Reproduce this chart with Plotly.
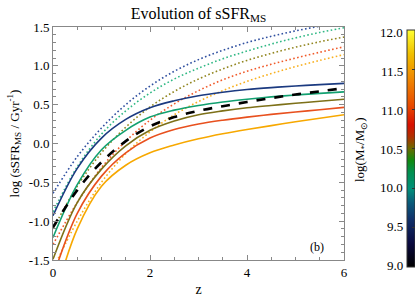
import plotly.graph_objects as go

# ---------------- data ----------------
z = [0, 0.5, 1, 1.5, 2, 2.5, 3, 3.5, 4, 4.5, 5, 5.5, 6]
masses = [9.5, 10.0, 10.5, 11.0, 11.5]

solid_95 = [-0.93, -0.32, 0.07, 0.31, 0.46, 0.55, 0.615, 0.66, 0.695, 0.72, 0.74, 0.758, 0.774]
solid_100 = [-1.21, -0.53, -0.08, 0.17, 0.34, 0.43, 0.49, 0.535, 0.57, 0.60, 0.625, 0.645, 0.665]
solid_105 = [-1.49, -0.76, -0.33, -0.03, 0.17, 0.29, 0.37, 0.42, 0.46, 0.49, 0.518, 0.544, 0.569]
solid_110 = [-1.72, -0.90, -0.42, -0.12, 0.07, 0.18, 0.25, 0.30, 0.34, 0.375, 0.405, 0.435, 0.465]
solid_115 = [-2.05, -1.10, -0.55, -0.28, -0.12, -0.02, 0.06, 0.125, 0.18, 0.23, 0.28, 0.325, 0.37]

dot_95 = [-0.64, -0.17, 0.20, 0.50, 0.74, 0.93, 1.08, 1.20, 1.30, 1.38, 1.45, 1.51, 1.56]
dot_100 = [-0.88, -0.30, 0.12, 0.42, 0.65, 0.83, 0.97, 1.09, 1.19, 1.28, 1.36, 1.43, 1.49]
dot_105 = [-1.10, -0.55, -0.12, 0.21, 0.47, 0.67, 0.83, 0.96, 1.07, 1.16, 1.24, 1.31, 1.37]
dot_110 = [-1.30, -0.76, -0.31, 0.03, 0.30, 0.51, 0.68, 0.82, 0.93, 1.02, 1.10, 1.175, 1.245]
dot_115 = [-1.62, -1.00, -0.50, -0.13, 0.15, 0.37, 0.54, 0.68, 0.80, 0.90, 0.99, 1.07, 1.145]

dashed_mean = [-1.08, -0.60, -0.24, 0.03, 0.22, 0.34, 0.42, 0.48, 0.535, 0.585, 0.63, 0.672, 0.712]

cbar_ticks = [9.0, 9.5, 10.0, 10.5, 11.0, 11.5, 12.0]
cbar_marker_value = 9.83

solid_colors = ["#1b3a80", "#12a070", "#7d7018", "#e8501e", "#f7a800"]
dot_colors = ["#3050a0", "#30b884", "#928620", "#f05a2a", "#f8b020"]

colorscale = [
    [0.00, "#000000"],
    [0.10, "#0a0a40"],
    [0.20, "#10306a"],
    [0.27, "#0a5a7a"],
    [0.33, "#00907a"],
    [0.40, "#009050"],
    [0.45, "#108a10"],
    [0.50, "#6a6a00"],
    [0.55, "#b03000"],
    [0.60, "#d81000"],
    [0.68, "#e84a00"],
    [0.80, "#f08a00"],
    [0.90, "#f0c000"],
    [1.00, "#ffff30"],
]

solids = [solid_95, solid_100, solid_105, solid_110, solid_115]
dots = [dot_95, dot_100, dot_105, dot_110, dot_115]

# pixel geometry of the plot box
L, R, T, B = 53, 344, 27, 260
W, H = 415, 297
PW, PH = R - L, B - T

def px_x(p):
    return (p - L) / PW

def px_y(p):
    return (B - p) / PH

fig = go.Figure()
for i, m in enumerate(masses):
    fig.add_trace(go.Scatter(x=z, y=dots[i], mode="lines", line_shape="spline",
                             line=dict(color=dot_colors[i], width=1.6, dash="1.6px,2.4px",
                                       smoothing=1),
                             showlegend=False, hoverinfo="skip"))
for i, m in enumerate(masses):
    fig.add_trace(go.Scatter(x=z, y=solids[i], mode="lines", line_shape="spline",
                             line=dict(color=solid_colors[i], width=1.6, smoothing=1),
                             showlegend=False, hoverinfo="skip"))
fig.add_trace(go.Scatter(x=z, y=dashed_mean, mode="lines", line_shape="spline",
                         line=dict(color="black", width=2.6, dash="dash", smoothing=1),
                         showlegend=False, hoverinfo="skip"))

cb_top, cb_bot = 30.0, 267.0
fig.add_trace(go.Scatter(
    x=[None], y=[None], mode="markers", showlegend=False, hoverinfo="skip",
    marker=dict(color=[9.0, 12.0], cmin=9.0, cmax=12.0, colorscale=colorscale,
                showscale=True,
                colorbar=dict(x=px_x(407), xanchor="left", xpad=0, ypad=0,
                              thickness=8, thicknessmode="pixels",
                              len=cb_bot - cb_top, lenmode="pixels",
                              y=px_y((cb_top + cb_bot) / 2), yanchor="middle",
                              outlinewidth=1, outlinecolor="#333333",
                              tickvals=cbar_ticks, showticklabels=False,
                              ticks="inside", ticklen=3, tickcolor="#333333"))))

font_family = "Liberation Serif"

pix_top, pix_bot = 33.0, 265.0
for v in cbar_ticks:
    py = pix_bot - (v - 9.0) / 3.0 * (pix_bot - pix_top)
    fig.add_annotation(x=px_x(405), y=px_y(py), xref="paper", yref="paper",
                       text=f"{v:.1f}", showarrow=False, xanchor="right", yanchor="middle",
                       font=dict(family=font_family, size=13, color="black"))

py = pix_bot - (cbar_marker_value - 9.0) / 3.0 * (pix_bot - pix_top)
fig.add_shape(type="line", xref="paper", yref="paper",
              x0=px_x(407), x1=px_x(415), y0=px_y(py), y1=px_y(py),
              line=dict(color="#111111", width=1))

fig.add_annotation(x=px_x(360), y=px_y(150), xref="paper", yref="paper",
                   text="log(M<sub>*</sub>/M<sub>⊙</sub>)", showarrow=False, textangle=-90,
                   xanchor="center", yanchor="middle",
                   font=dict(family=font_family, size=13, color="black"))

fig.add_annotation(x=5.45, y=-1.33, xref="x", yref="y", text="(b)", showarrow=False,
                   font=dict(family=font_family, size=12, color="black"))

axis_common = dict(showgrid=False, zeroline=False, showline=True, linecolor="#888888",
                   linewidth=1, mirror="ticks", ticks="inside", ticklen=5, tickcolor="#888888",
                   tickfont=dict(family=font_family, size=13, color="black"))

fig.update_xaxes(range=[0, 6], tickvals=[0, 2, 4, 6], ticktext=["0", "2", "4", "6"],
                 minor=dict(dtick=0.5, ticks="inside", ticklen=3, tickcolor="#888888"),
                 title=dict(text="z", font=dict(family=font_family, size=14, color="black"),
                            standoff=6),
                 **axis_common)
fig.update_yaxes(range=[-1.5, 1.5], tickvals=[-1.5, -1.0, -0.5, 0.0, 0.5, 1.0, 1.5],
                 ticktext=["-1.5", "-1.0", "-0.5", "0.0", "0.5", "1.0", "1.5"],
                 minor=dict(dtick=0.1, ticks="inside", ticklen=3, tickcolor="#888888"),
                 title=dict(text="log (sSFR<sub>MS</sub> / Gyr<sup>-1</sup>)",
                            font=dict(family=font_family, size=13, color="black"), standoff=6),
                 **axis_common)

fig.update_layout(
    width=W, height=H,
    margin=dict(l=L, r=W - R, t=T, b=H - B, autoexpand=False),
    paper_bgcolor="white", plot_bgcolor="white",
    title=dict(text="Evolution of sSFR<sub>MS</sub>", x=((L + R) / 2) / W, xanchor="center",
               y=1 - 13 / H, yanchor="middle",
               font=dict(family=font_family, size=16, color="black")),
    font=dict(family=font_family),
)

fig.write_html("out.html", config={"displayModeBar": False},
               post_script="document.body.style.margin='0';document.body.style.overflow='hidden';")
